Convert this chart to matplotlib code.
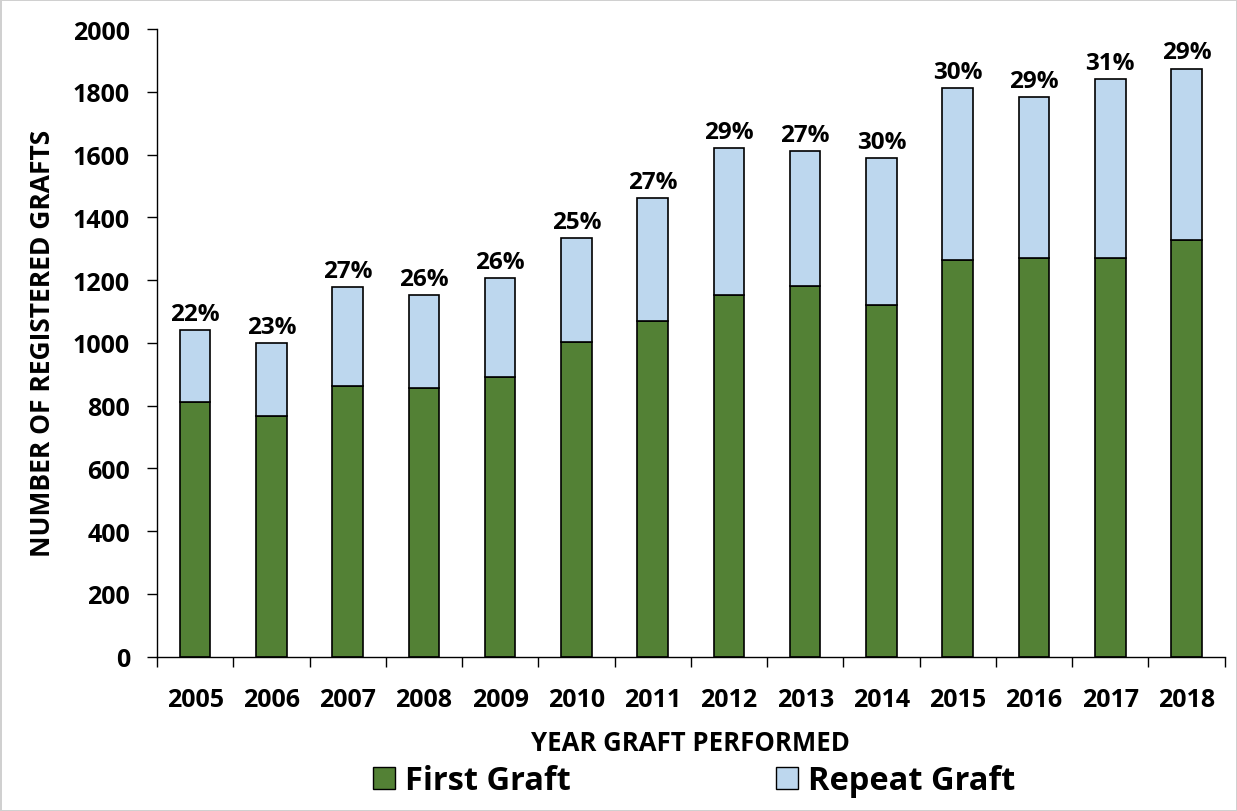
import numpy as np
import matplotlib.pyplot as plt
from matplotlib.patches import Patch

# data
years = ["2005", "2006", "2007", "2008", "2009", "2010", "2011",
         "2012", "2013", "2014", "2015", "2016", "2017", "2018"]
first_graft = [813, 767, 864, 855, 891, 1002, 1071, 1151, 1182, 1120, 1264, 1270, 1270, 1327]
repeat_graft = [229, 232, 315, 298, 316, 331, 391, 471, 430, 469, 548, 514, 570, 547]
pct_labels = ["22%", "23%", "27%", "26%", "26%", "25%", "27%",
              "29%", "27%", "30%", "30%", "29%", "31%", "29%"]

plt.rcParams['font.family'] = ['Open Sans', 'DejaVu Sans']
plt.rcParams['font.weight'] = 'bold'

green = "#538135"
blue = "#bdd7ee"

fig = plt.figure(figsize=(12.37, 8.12), dpi=100)
fig.patch.set_edgecolor("#d0d0d0")
fig.patch.set_linewidth(2)
ax = fig.add_axes([0.127, 0.19, 0.863, 0.773])

x = np.arange(len(years))
ax.bar(x, first_graft, width=0.4, color=green, edgecolor="black", linewidth=1.2)
ax.bar(x, repeat_graft, width=0.4, bottom=first_graft, color=blue,
       edgecolor="black", linewidth=1.2)

# percentage of repeat grafts above each bar
totals = np.array(first_graft) + np.array(repeat_graft)
for xi, t, lab in zip(x, totals, pct_labels):
    ax.annotate(lab, (xi, t), xytext=(0, 3), textcoords="offset points",
                ha="center", va="bottom", fontsize=17.5, fontweight="bold")

ax.set_xlim(-0.5, len(years) - 0.5)
ax.set_ylim(0, 2000)
ax.set_yticks(range(0, 2001, 200))
ax.set_xticks(x)
ax.set_xticklabels(years, fontsize=18, fontweight="bold")
ax.tick_params(axis="x", length=0, pad=22)
ax.set_xticks(np.arange(-0.5, len(years)), minor=True)
ax.tick_params(axis="x", which="minor", length=7.5, width=1, color="black")
ax.tick_params(axis="y", labelsize=18, length=7.5, width=1, pad=12)
for t in ax.get_yticklabels():
    t.set_fontweight("bold")

ax.spines["top"].set_visible(False)
ax.spines["right"].set_visible(False)
ax.spines["left"].set_linewidth(1)
ax.spines["bottom"].set_linewidth(1)

ax.set_ylabel("NUMBER OF REGISTERED GRAFTS", fontsize=19, fontweight="bold", labelpad=12)
ax.set_xlabel("YEAR GRAFT PERFORMED", fontsize=18.5, fontweight="bold", labelpad=12)

handles = [Patch(facecolor=green, edgecolor="black", label="First Graft"),
           Patch(facecolor=blue, edgecolor="black", label="Repeat Graft")]
fig.legend(handles=handles, loc="center", bbox_to_anchor=(0.561, 0.037), ncol=2,
           frameon=False, prop={"size": 23.5, "weight": "bold"},
           handlelength=0.68, handleheight=0.68, handletextpad=0.3, columnspacing=6.3,
           borderpad=0)

fig.savefig("out.png", dpi=100)
